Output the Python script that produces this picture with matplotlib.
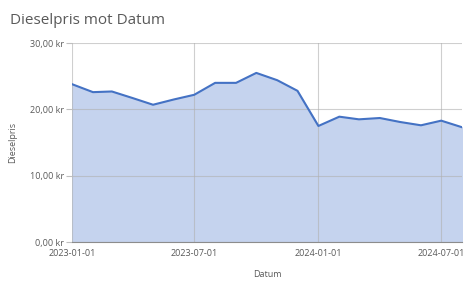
import matplotlib.pyplot as plt
import matplotlib.dates as mdates
import numpy as np
import datetime as dt

# monthly diesel prices, Jan 2023 - Aug 2024
months = [dt.date(2023 + (m - 1) // 12, (m - 1) % 12 + 1, 1) for m in range(1, 21)]
prices = [23.8, 22.6, 22.7, 21.7, 20.7, 21.5, 22.2, 24.0, 24.0, 25.5,
          24.4, 22.8, 17.5, 18.9, 18.5, 18.7, 18.1, 17.6, 18.3, 17.3]
tick_dates = [dt.date(2023, 1, 1), dt.date(2023, 7, 1), dt.date(2024, 1, 1), dt.date(2024, 7, 1)]
y_ticks = [0, 10, 20, 30]

plt.rcParams['font.family'] = ['Open Sans', 'DejaVu Sans']

fig = plt.figure(figsize=(4.74, 2.93), dpi=100)
ax = fig.add_axes([0.152, 0.174, 0.823, 0.679])

x = mdates.date2num(months)
ax.fill_between(x, prices, 0, color='#c5d3ee', zorder=1)
ax.plot(x, prices, color='#4472c4', lw=1.5, zorder=3)

ax.set_xlim(x[0], x[-1])
ax.set_ylim(0, 30)
ax.set_xticks(mdates.date2num(tick_dates))
ax.set_xticklabels([d.strftime('%Y-%m-%d') for d in tick_dates])
ax.set_yticks(y_ticks)
ax.set_yticklabels([f'{v:.2f}'.replace('.', ',') + ' kr' for v in y_ticks])

ax.grid(True, color='#b0b0b0', lw=0.8, alpha=0.6, zorder=2)
ax.set_axisbelow(False)
for s in ['top', 'right', 'left']:
    ax.spines[s].set_visible(False)
ax.spines['bottom'].set_color('#8c8c8c')
ax.spines['bottom'].set_zorder(4)
ax.tick_params(axis='x', length=0, labelsize=6.5, colors='#595959', pad=5)
ax.tick_params(axis='y', length=4, labelsize=6.5, color='#bfbfbf', labelcolor='#595959', pad=2)

ax.set_ylabel('Dieselpris', fontsize=6.5, color='#595959')
ax.yaxis.set_label_coords(-0.141, 0.5)
ax.set_xlabel('Datum', fontsize=6.5, color='#595959', labelpad=9)
fig.text(0.021, 0.93, 'Dieselpris mot Datum', fontsize=11, color='#595959', va='center')

fig.savefig('out.png', dpi=100)
